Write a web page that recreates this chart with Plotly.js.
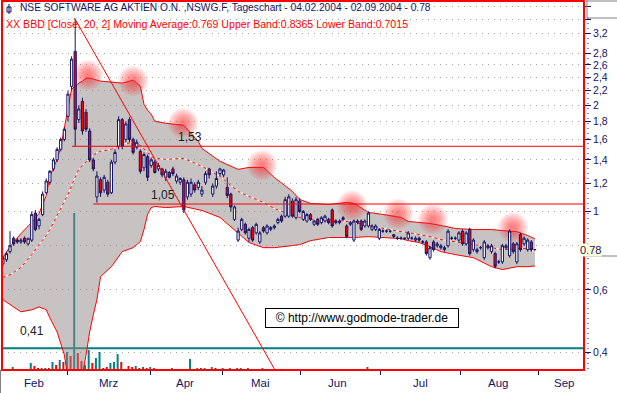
<!DOCTYPE html>
<html><head><meta charset="utf-8">
<script src="https://cdn.plot.ly/plotly-3.0.1.min.js"></script>
<style>html,body{margin:0;padding:0;background:#fff}#chart{width:617px;height:393px}</style>
</head><body><div id="chart"></div>
<script>
// ---- daily candles (trading-day index 0 = 04.02.2004) ----
const open  = [0.71,0.73,0.77,0.84,0.83,0.82,0.84,0.81,0.83,0.99, 0.91,0.98,1.13,1.21,1.32,1.40,1.50,1.60,1.86,2.26, 2.84,1.82,2.05,1.91,1.69,1.40,1.10,1.23,1.15,1.21, 1.13,1.38,1.53,1.82,1.60,1.82,1.60,1.52,1.48,1.33, 1.43,1.35,1.38,1.32,1.32,1.25,1.29,1.32,1.22,1.21, 1.23,1.10,1.12,1.19,1.17,1.12,1.21,1.32,1.12,1.18, 1.28,1.27,1.17,1.12,0.95,0.83,0.89,0.92,0.84,0.90, 0.87,0.82,0.90,0.87,0.89,0.90,0.93,0.97,0.97,0.97, 1.07,0.96,1.07,0.95,0.94,0.98,0.92,0.95,0.93,0.94, 0.95,1.01,0.93,0.93,0.95,0.91,0.92,0.83,0.93,0.94, 0.91,0.91,0.89,0.89,0.84,0.88,0.88,0.88,0.85,0.84, 0.84,0.84,0.84,0.84,0.83,0.84,0.82,0.82,0.74,0.82, 0.80,0.79,0.78,0.80,0.84,0.84,0.83,0.88,0.81,0.89, 0.78,0.77,0.79,0.74,0.79,0.77,0.76,0.72,0.72,0.79, 0.75,0.81,0.72,0.86,0.81,0.78,0.82,0.78];
const high  = [0.75,0.77,0.88,0.85,0.84,0.84,0.85,0.84,1.00,1.01, 0.96,1.14,1.24,1.31,1.42,1.52,1.62,1.73,2.20,2.75, 3.50,2.00,2.10,1.95,1.72,1.42,1.30,1.25,1.27,1.23, 1.40,1.50,1.86,1.84,1.80,1.85,1.62,1.60,1.50,1.47, 1.45,1.42,1.40,1.37,1.33,1.32,1.30,1.34,1.28,1.25, 1.25,1.23,1.24,1.21,1.23,1.18,1.30,1.33,1.20,1.30, 1.33,1.32,1.25,1.13,1.04,0.90,0.96,0.93,0.90,0.91, 0.93,0.88,0.91,0.92,0.91,0.92,0.96,0.98,1.10,1.12, 1.09,1.10,1.09,1.01,0.99,0.99,0.95,0.96,0.97,0.98, 0.96,1.02,0.95,0.95,0.97,0.92,0.94,0.95,0.95,0.95, 0.95,1.00,0.92,0.92,0.90,0.89,0.89,0.88,0.86,0.85, 0.85,0.84,0.88,0.85,0.85,0.85,0.83,0.83,0.80,0.83, 0.82,0.81,0.80,0.89,0.85,0.85,0.88,0.89,0.88,0.90, 0.84,0.79,0.80,0.83,0.81,0.81,0.77,0.73,0.81,0.81, 0.89,0.82,0.82,0.87,0.85,0.84,0.83,0.78];
const low   = [0.70,0.72,0.76,0.80,0.81,0.81,0.81,0.80,0.82,0.88, 0.89,0.97,1.12,1.19,1.30,1.38,1.48,1.58,1.80,2.20, 1.53,1.78,1.65,1.68,1.38,1.30,1.06,1.10,1.13,1.10, 1.12,1.36,1.50,1.50,1.57,1.57,1.45,1.50,1.28,1.30, 1.22,1.33,1.28,1.30,1.25,1.22,1.24,1.26,1.20,1.19, 0.99,1.08,1.10,1.13,1.15,1.10,1.19,1.24,1.10,1.16, 1.26,1.25,1.09,1.00,0.94,0.82,0.88,0.86,0.82,0.82, 0.86,0.81,0.87,0.86,0.88,0.89,0.92,0.93,0.96,0.96, 0.96,0.95,0.99,0.94,0.93,0.94,0.91,0.91,0.92,0.93, 0.92,0.90,0.92,0.92,0.94,0.84,0.91,0.82,0.92,0.88, 0.90,0.90,0.88,0.88,0.83,0.87,0.87,0.87,0.84,0.83, 0.83,0.83,0.83,0.83,0.82,0.82,0.81,0.75,0.73,0.77, 0.79,0.78,0.77,0.79,0.83,0.83,0.82,0.80,0.80,0.75, 0.77,0.76,0.78,0.73,0.78,0.76,0.69,0.71,0.71,0.78, 0.74,0.76,0.71,0.77,0.80,0.77,0.77,0.78];
const close = [0.74,0.76,0.80,0.81,0.82,0.83,0.82,0.84,0.98,0.89, 0.95,1.12,1.22,1.30,1.40,1.50,1.60,1.71,2.15,2.70, 1.71,1.95,1.69,1.71,1.40,1.32,1.26,1.13,1.25,1.12, 1.38,1.47,1.82,1.53,1.77,1.60,1.47,1.57,1.30,1.45, 1.25,1.40,1.29,1.35,1.27,1.30,1.25,1.28,1.26,1.24, 1.01,1.21,1.21,1.15,1.21,1.15,1.28,1.27,1.18,1.24, 1.32,1.31,1.11,1.03,1.03,0.88,0.95,0.87,0.89,0.83, 0.92,0.87,0.88,0.91,0.90,0.91,0.95,0.94,1.08,1.10, 0.97,1.08,1.00,1.00,0.98,0.95,0.94,0.92,0.96,0.97, 0.93,0.91,0.94,0.94,0.96,0.85,0.93,0.94,0.94,0.89, 0.94,0.99,0.91,0.91,0.89,0.88,0.88,0.88,0.86,0.84, 0.84,0.84,0.87,0.84,0.84,0.83,0.82,0.76,0.79,0.78, 0.81,0.80,0.79,0.88,0.84,0.84,0.87,0.81,0.87,0.76, 0.83,0.78,0.79,0.82,0.80,0.80,0.70,0.72,0.80,0.80, 0.88,0.77,0.81,0.78,0.84,0.83,0.78,0.78];
// volume (thousand shares) and its up/down flag
const volume = [0,0,1,3,1,1,0,0,7,4, 2,2,2,2,8,5,10,8,18,14, 157,17,9,5,20,7,12,18,2,3, 7,8,16,8,1,4,3,4,2,3, 2,3,2,0,0,1,0,2,0,0, 0,0,11,1,2,2,2,0,3,2, 0,2,0,2,0,2,2,0,2,0, 0,0,2,0,0,1,1,0,0,0, 0,0,0,0,0,0,0,0,0,0, 0,0,0,0,0,0,0,0,0,0, 0,3,0,0,0,0,0,0,0,0, 0,0,0,0,0,0,0,0,0,1, 0,0,0,0,0,0,0,0,0,0, 1,0,0,0,0,0,0,0,1,0, 0,0,0,0,0,1,0,0];
const volDir = ("uuuuduuuud"+"duudududud"+"udduuduudd"+"uuuddddudu"+"duduuuuuuu"+"uuududuuud"+"uuuuuuuuuu"+"uuuuuuduuu"+"u".repeat(68)).split('');
// ---- Bollinger band (20, 2), read at sampled days ----
const bandIdx  = [0,2,5,8,10,12,13,15,16,17,18,19,21,22,23,24,25,26,27,30,33,36,38,39,40,41,42,45,50,54,55,60,65,68,72,75,80,82,85,90,95,97,101,105,110,112,115,118,121,125,130,135,138,142,145,147];
const upperBand = [0.740,0.795,0.866,0.931,0.987,1.110,1.257,1.405,1.519,1.732,1.986,2.220,2.309,2.339,2.385,2.385,2.370,2.354,2.339,2.324,2.309,2.354,2.264,2.012,1.935,1.885,1.801,1.777,1.754,1.580,1.509,1.387,1.316,1.333,1.333,1.249,1.140,1.082,1.054,1.047,1.061,1.054,0.994,0.981,0.962,0.937,0.931,0.925,0.913,0.895,0.889,0.889,0.883,0.877,0.855,0.8365];
const lowerBand = [0.563,0.545,0.520,0.527,0.537,0.527,0.500,0.456,0.425,0.393,0.334,0.323,0.312,0.345,0.393,0.456,0.510,0.563,0.654,0.698,0.770,0.790,0.822,0.889,0.981,1.026,1.033,1.026,1.033,1.013,1.007,0.962,0.866,0.817,0.790,0.790,0.801,0.806,0.827,0.844,0.844,0.844,0.849,0.844,0.838,0.827,0.817,0.795,0.770,0.755,0.740,0.698,0.685,0.698,0.698,0.7015];
const movAvg    = [0.650,0.662,0.694,0.755,0.806,0.855,0.889,0.974,1.013,1.061,1.118,1.185,1.316,1.351,1.387,1.414,1.442,1.470,1.480,1.500,1.549,1.570,1.539,1.500,1.461,1.433,1.414,1.405,1.414,1.360,1.342,1.257,1.140,1.103,1.061,1.020,0.974,0.962,0.949,0.949,0.937,0.931,0.913,0.895,0.877,0.872,0.860,0.849,0.833,0.822,0.806,0.790,0.780,0.785,0.785,0.769];
// ---- highlighted band tops ----
const glowIdx   = [23.5,36.0,49.8,71.6,96.5,109.2,118.8,140.9];
const glowPrice = [2.43,2.34,1.777,1.351,1.040,0.984,0.949,0.901];
// ---- drawn analysis lines ----
const trendIdx = [19.8, 75.6];
const trendPrice = [3.53, 0.35];
const resistLevels = [1.53, 1.05];
const resistStart  = [19.1, 25.0];
const resistLabels = ['1,53', '1,05'];
const supportLevel = 0.41;
const supportLabel = '0,41';
// ---- axis labels ----
const monthLabels = ['Feb','Mrz','Apr','Mai','Jun','Jul','Aug','Sep'];
const priceTicks = [3.8,3.5,3.2,2.8,2.6,2.4,2.2,2,1.8,1.6,1.4,1.2,1,0.8,0.6,0.4];
const priceTickText = ['','','3,2','2,8','2,6','2,4','2,2','2','1,8','1,6','1,4','1,2','1','','0,6','0,4'];
const lastPrice = 0.78;
const titleText = 'NSE SOFTWARE AG AKTIEN O.N. ,NSWG.F, Tageschart - 04.02.2004 - 02.09.2004 - 0.78';
const indText = 'XX BBD [Close, 20, 2] Moving Average:0.769 Upper Band:0.8365 Lower Band:0.7015';

// ---- layout constants ----
const monthTickPos = [18.0, 40.9, 60.8, 82.1, 104.2, 126.3, 148.1];
const monthLabelPos = [8.6, 29.2, 50.4, 71.3, 92.5, 115.3, 136.8, 154.9];
const XR = [-0.22, 160.55];
const YR = [Math.log10(0.3559), Math.log10(3.944)];
const NAVY = '#141464', RED = '#ff0000', TEAL = '#008080';
const FONT = 'Liberation Sans, Arial, sans-serif';
const day = open.map((_, i) => i);
const px2paperX = p => (p - 2) / 582, px2paperY = p => (370 - p) / 369;

const traces = [];
traces.push({type:'bar', x:day, y:volume, xaxis:'x', yaxis:'y', width:0.55, offset:-0.55,
  marker:{color:volDir.map(d => d === 'u' ? TEAL : RED), line:{width:0}}, hoverinfo:'skip'});
traces.push({type:'scatter', mode:'lines', x:[XR[0], 161], y:[supportLevel, supportLevel], xaxis:'x', yaxis:'y2',
  line:{color:TEAL, width:2}, hoverinfo:'skip'});
traces.push({type:'scatter', mode:'lines', x:bandIdx, y:upperBand, xaxis:'x', yaxis:'y2',
  line:{color:RED, width:1}, hoverinfo:'skip'});
traces.push({type:'scatter', mode:'lines', x:bandIdx, y:lowerBand, xaxis:'x', yaxis:'y2', fill:'tonexty',
  fillcolor:'rgba(145,135,135,0.5)', line:{color:RED, width:1}, hoverinfo:'skip'});
traces.push({type:'scatter', mode:'lines', x:bandIdx, y:movAvg, xaxis:'x', yaxis:'y2',
  line:{color:'#ffffff', width:1}, hoverinfo:'skip'});
traces.push({type:'scatter', mode:'lines', x:bandIdx, y:movAvg, xaxis:'x', yaxis:'y2',
  line:{color:RED, width:1, dash:'3px,3px'}, hoverinfo:'skip'});
[30,27,24,21,18,15,12,9,6].forEach(s => traces.push({type:'scatter', mode:'markers',
  x:glowIdx, y:glowPrice, xaxis:'x', yaxis:'y2', marker:{size:s, color:'rgb(255,30,30)', opacity:0.085, line:{width:0}}, hoverinfo:'skip'}));
traces.push({type:'candlestick', x:day, open, high, low, close, xaxis:'x', yaxis:'y3', whiskerwidth:0,
  increasing:{line:{color:NAVY, width:1}, fillcolor:'#ffffff'},
  decreasing:{line:{color:NAVY, width:1}, fillcolor:RED}, hoverinfo:'skip'});
resistLevels.forEach((lv, k) => traces.push({type:'scatter', mode:'lines', x:[resistStart[k], 161], y:[lv, lv],
  xaxis:'x', yaxis:'y3', line:{color:RED, width:1}, hoverinfo:'skip'}));
traces.push({type:'scatter', mode:'lines', x:trendIdx, y:trendPrice, xaxis:'x', yaxis:'y3',
  line:{color:RED, width:1}, hoverinfo:'skip'});

const ann = [];
ann.push({xref:'paper', yref:'paper', x:px2paperX(18), y:px2paperY(8), xanchor:'left', yanchor:'middle', showarrow:false,
  text:titleText, font:{family:FONT, size:10.2, color:NAVY}});
ann.push({xref:'paper', yref:'paper', x:px2paperX(4), y:px2paperY(24), xanchor:'left', yanchor:'middle', showarrow:false,
  text:indText, font:{family:FONT, size:10.6, color:RED}});
monthLabels.forEach((m, k) => ann.push({xref:'x', yref:'paper', x:monthLabelPos[k], y:px2paperY(383), yanchor:'middle',
  showarrow:false, text:m, font:{family:FONT, size:11.5, color:NAVY}}));
ann.push({xref:'x', yref:'y3', x:51.8, y:Math.log10(resistLevels[0]), yshift:9, showarrow:false, text:resistLabels[0], font:{family:FONT, size:12, color:'#202020'}});
ann.push({xref:'x', yref:'y3', x:44.3, y:Math.log10(resistLevels[1]), yshift:9, showarrow:false, text:resistLabels[1], font:{family:FONT, size:12, color:'#202020'}});
ann.push({xref:'x', yref:'y3', x:8.1, y:Math.log10(supportLevel), yshift:17, showarrow:false, text:supportLabel, font:{family:FONT, size:12, color:'#202020'}});
ann.push({xref:'paper', yref:'paper', x:px2paperX(459), y:px2paperY(328), showarrow:false, text:'© http://www.godmode-trader.de',
  font:{family:FONT, size:12, color:'#000'}, bgcolor:'#fff', bordercolor:'#000', borderwidth:1, borderpad:2, width:188, height:14});
ann.push({xref:'paper', yref:'y2', x:px2paperX(602), y:Math.log10(lastPrice), showarrow:false, text:String(lastPrice),
  font:{family:FONT, size:11, color:NAVY}, bgcolor:'#ffffe0', borderpad:0});

const shapes = [
  {type:'rect', xref:'paper', yref:'paper', x0:0, x1:1, y0:0, y1:1, line:{color:RED, width:2}, layer:'above'},
  {type:'line', xref:'paper', yref:'paper', x0:px2paperX(588), x1:px2paperX(588), y0:px2paperY(18), y1:0, line:{color:NAVY, width:1, dash:'1px,4px'}},
  {type:'line', xref:'paper', yref:'paper', x0:1, x1:px2paperX(617), y0:px2paperY(256), y1:px2paperY(256), line:{color:'#808080', width:1}},
  {type:'line', xref:'paper', yref:'paper', x0:1, x1:px2paperX(617), y0:px2paperY(1), y1:px2paperY(1), line:{color:'#808080', width:1}},
  {type:'line', xref:'paper', yref:'paper', x0:px2paperX(587), x1:px2paperX(587), y0:px2paperY(0), y1:px2paperY(18), line:{color:'#808080', width:1}},
  {type:'line', xref:'paper', yref:'paper', x0:px2paperX(587), x1:px2paperX(617), y0:px2paperY(18), y1:px2paperY(18), line:{color:'#808080', width:1}},
  {type:'line', xref:'paper', yref:'paper', x0:px2paperX(0.5), x1:px2paperX(0.5), y0:0, y1:px2paperY(393), line:{color:'#808080', width:1}},
  // title icon
  {type:'rect', xref:'paper', yref:'paper', x0:px2paperX(7), x1:px2paperX(11), y0:px2paperY(12), y1:px2paperY(7), line:{color:NAVY, width:1}},
  {type:'line', xref:'paper', yref:'paper', x0:px2paperX(9), x1:px2paperX(9), y0:px2paperY(14), y1:px2paperY(4), line:{color:NAVY, width:1}}
];

const layout = {
  width:617, height:393, margin:{l:2, r:33, t:1, b:23, pad:0},
  paper_bgcolor:'#fff', plot_bgcolor:'#fff', showlegend:false, boxgap:0.12,
  xaxis:{range:XR, tickmode:'array', tickvals:monthTickPos, ticktext:monthTickPos.map(() => ''), ticks:'outside', ticklen:4,
    tickcolor:NAVY, showgrid:false, zeroline:false, showline:false, rangeslider:{visible:false}, fixedrange:true},
  yaxis:{range:[0, 369], visible:false, fixedrange:true},
  yaxis2:{type:'log', overlaying:'y', side:'right', range:YR, tickmode:'array', tickvals:priceTicks, ticktext:priceTickText,
    ticks:'outside', ticklen:6, tickcolor:NAVY, tickfont:{family:FONT, size:10.5, color:NAVY},
    showgrid:true, gridcolor:'#a8a8a8', griddash:'1px,5px', zeroline:false, showline:false, fixedrange:true},
  yaxis3:{type:'log', overlaying:'y', range:YR, visible:false, fixedrange:true},
  annotations:ann, shapes:shapes
};
Plotly.newPlot('chart', traces, layout, {staticPlot:true, displayModeBar:false});
</script></body></html>
